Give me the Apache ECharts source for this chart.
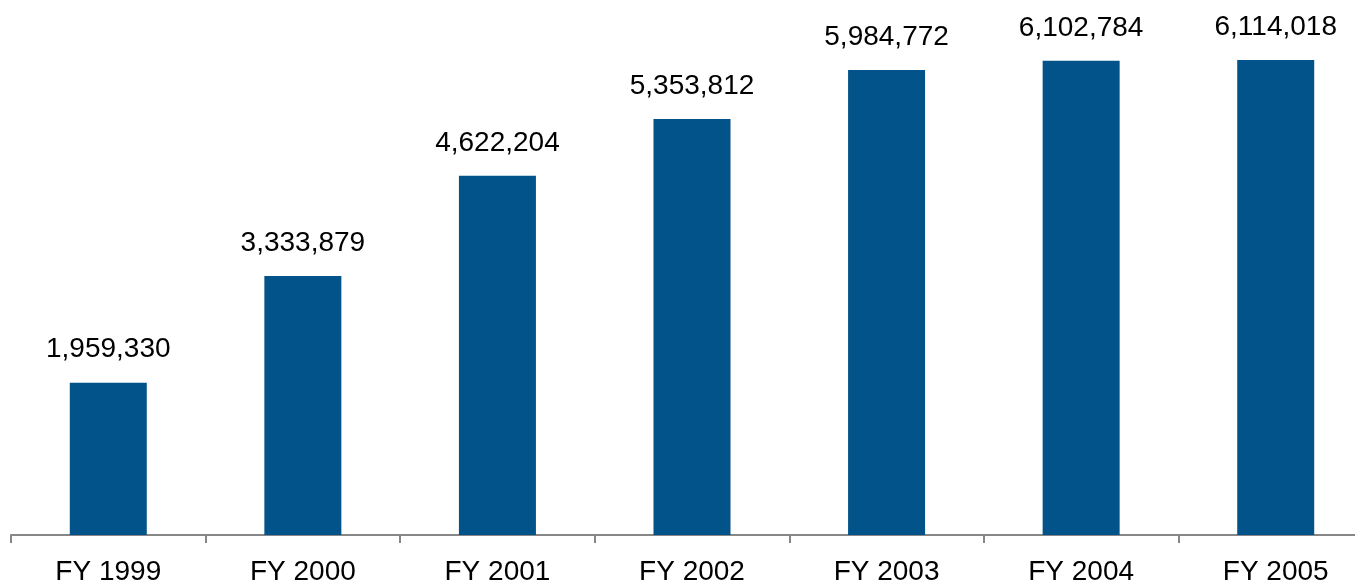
<!DOCTYPE html>
<html><head><meta charset="utf-8">
<script src="https://cdn.jsdelivr.net/npm/echarts@6/dist/echarts.min.js"></script>
<style>html,body{margin:0;padding:0;background:#fff}#c{width:1355px;height:587px}</style>
</head><body><div id="c"></div>
<script>
const categories = ['FY 1999','FY 2000','FY 2001','FY 2002','FY 2003','FY 2004','FY 2005'];
const values = [1959330, 3333879, 4622204, 5353812, 5984772, 6102784, 6114018];
const chart = echarts.init(document.getElementById('c'));
chart.setOption({
  animation: false,
  grid: {left: 11, top: 35, width: 1362, height: 500, containLabel: false, outerBoundsMode: 'none'},
  xAxis: {
    type: 'category', data: categories,
    axisLine: {lineStyle: {color: '#878787', width: 2}},
    axisTick: {show: true, length: 8, lineStyle: {color: '#878787', width: 2}},
    axisLabel: {color: '#000', fontFamily: 'Liberation Sans, Arial', fontSize: 28, margin: 23}
  },
  yAxis: {type: 'value', min: 0, max: 6435000, show: false, splitLine: {show: false}},
  series: [{
    type: 'bar', data: values, barWidth: 77,
    itemStyle: {color: '#02538a'},
    label: {show: true, position: 'top', distance: 19, color: '#000',
      fontFamily: 'Liberation Sans, Arial', fontSize: 28,
      formatter: p => p.value.toLocaleString('en-US')}
  }]
});
</script></body></html>
